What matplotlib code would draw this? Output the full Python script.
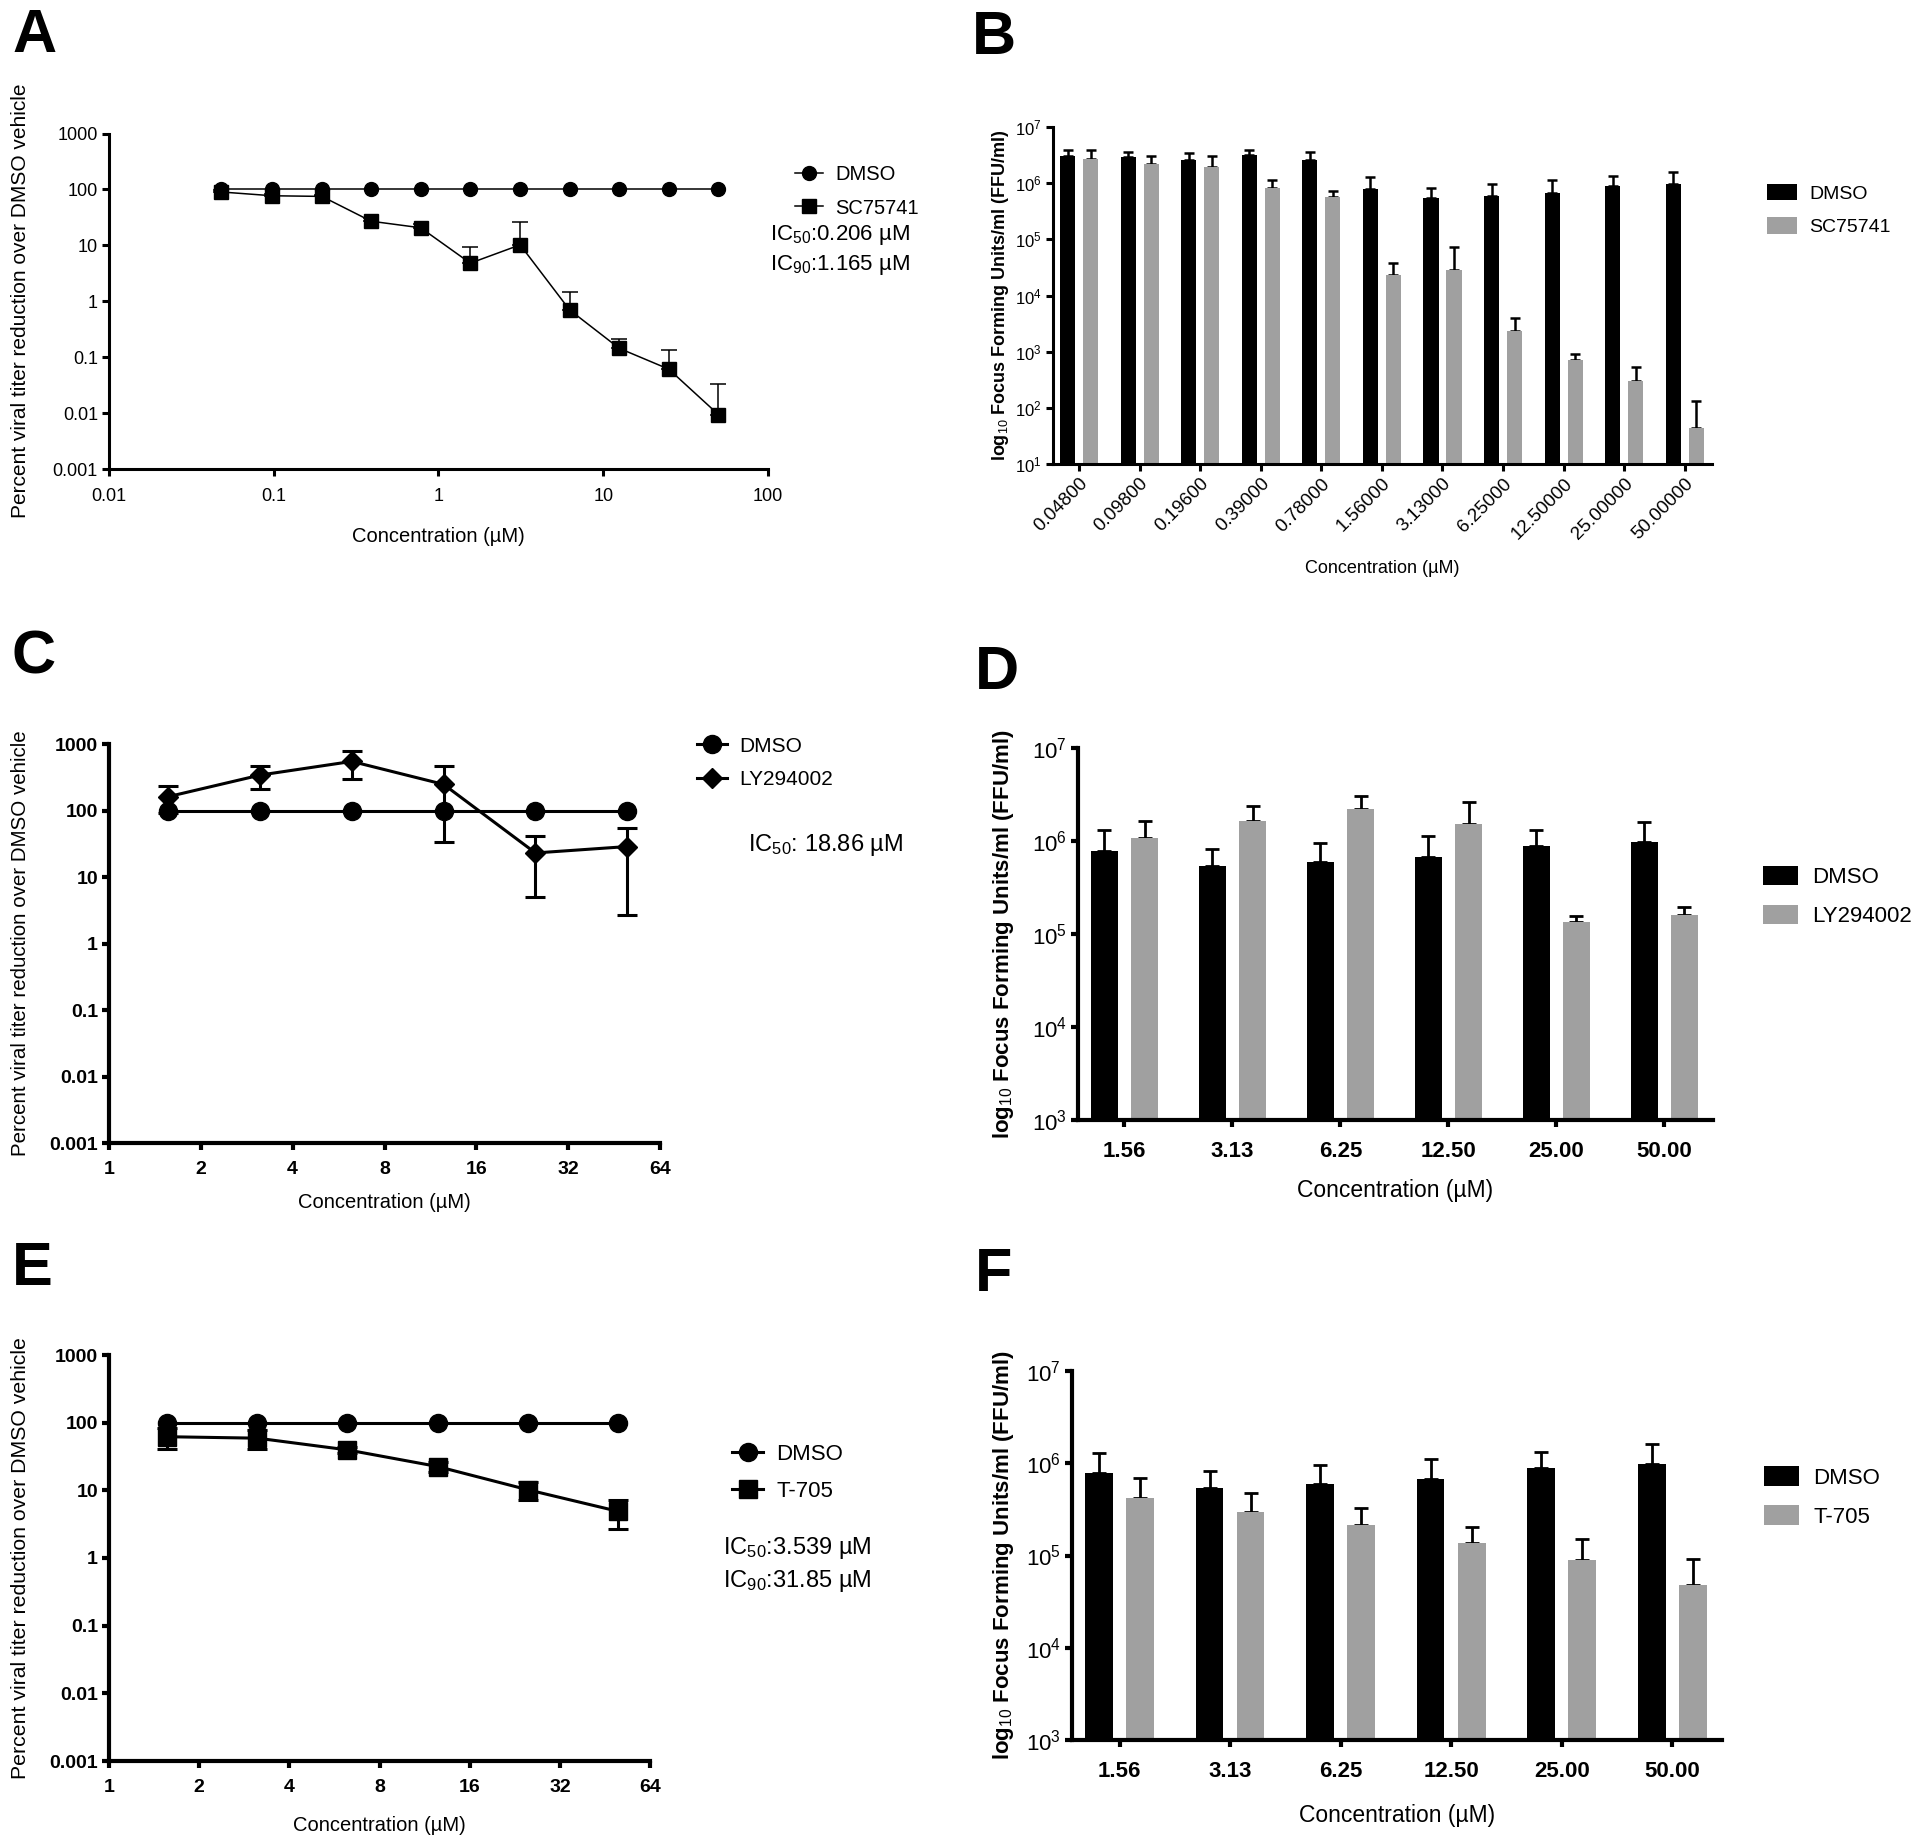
import matplotlib
matplotlib.use('Agg')
import matplotlib.pyplot as plt
from matplotlib.ticker import FixedLocator, FixedFormatter, NullLocator
import numpy as np

plt.rcParams['font.family'] = ['Liberation Sans', 'DejaVu Sans']
plt.rcParams['mathtext.fontset'] = 'custom'
plt.rcParams['mathtext.rm'] = 'Liberation Sans'
plt.rcParams['mathtext.it'] = 'Liberation Sans:italic'
plt.rcParams['mathtext.bf'] = 'Liberation Sans:bold'

# ---- data ----
conc_full = [0.048, 0.098, 0.196, 0.39, 0.78, 1.56, 3.13, 6.25, 12.5, 25.0, 50.0]
conc_short = [1.56, 3.13, 6.25, 12.5, 25.0, 50.0]

# A: SC75741 dose response (% of DMSO)
a_dmso = [100, 100, 100, 100, 100, 100, 100, 100, 100, 100, 100]
a_sc = [90, 77, 75, 27, 20.6, 4.8, 10.2, 0.70, 0.144, 0.061, 0.0094]
a_sc_err = [8, 5, 5, 4, 3, 4.4, 16.3, 0.76, 0.071, 0.072, 0.024]
a_ic = [r'IC$_{50}$:0.206 µM', r'IC$_{90}$:1.165 µM']

# B: SC75741 titers (FFU/ml)
b_dmso = [3.0e6, 2.9e6, 2.6e6, 3.15e6, 2.6e6, 7.8e5, 5.4e5, 5.9e5, 6.8e5, 8.8e5, 9.8e5]
b_dmso_err = [8.5e5, 7.0e5, 8.0e5, 8.0e5, 1.0e6, 5.2e5, 2.9e5, 3.6e5, 4.4e5, 4.4e5, 6.2e5]
b_sc = [2.7e6, 2.2e6, 1.95e6, 8.3e5, 5.6e5, 2.3e4, 2.9e4, 2.3e3, 700, 305, 43]
b_sc_err = [1.25e6, 8.0e5, 1.05e6, 3.2e5, 1.6e5, 1.5e4, 4.4e4, 1.6e3, 220, 225, 87]
b_ticklabels = ['0.04800', '0.09800', '0.19600', '0.39000', '0.78000', '1.56000',
                '3.13000', '6.25000', '12.50000', '25.00000', '50.00000']

# C: LY294002 dose response
c_dmso = [100, 100, 100, 100, 100, 100]
c_ly = [161, 341, 547, 247, 23, 28.7]
c_ly_err = [70, 130, 250, 213, 18, 26]

# D: LY294002 titers
dmso_short = [7.8e5, 5.4e5, 5.9e5, 6.8e5, 8.8e5, 9.8e5]
dmso_short_err = [5.2e5, 2.9e5, 3.6e5, 4.4e5, 4.4e5, 6.2e5]
d_ly = [1.08e6, 1.63e6, 2.19e6, 1.51e6, 1.35e5, 1.6e5]
d_ly_err = [5.5e5, 7.2e5, 8.8e5, 1.1e6, 2.0e4, 3.5e4]
short_ticklabels = ['1.56', '3.13', '6.25', '12.50', '25.00', '50.00']

# E: T-705 dose response
e_dmso = [100, 100, 100, 100, 100, 100]
e_t705 = [62, 59, 39.6, 22.5, 10.2, 4.9]
e_t705_err = [21, 18, 4, 4, 3, 2.2]
e_ic = [r'IC$_{50}$:3.539 µM', r'IC$_{90}$:31.85 µM']

# F: T-705 titers
f_t705 = [4.24e5, 2.98e5, 2.13e5, 1.35e5, 8.9e4, 4.8e4]
f_t705_err = [2.66e5, 1.72e5, 1.17e5, 6.8e4, 6.1e4, 4.3e4]

pct_ticks = [0.001, 0.01, 0.1, 1, 10, 100, 1000]
pct_labels = ['0.001', '0.01', '0.1', '1', '10', '100', '1000']
GRAY = '#a0a0a0'
YLAB_PCT = 'Percent viral titer reduction over DMSO vehicle'
YLAB_FFU = r'log$_{10}$ Focus Forming Units/ml (FFU/ml)'
XLAB = 'Concentration (µM)'

W, H = 1920, 1847
fig = plt.figure(figsize=(W / 100, H / 100), dpi=100)
fig.patch.set_facecolor('white')


def rect(x0, x1, ytop, ybot):
    return [x0 / W, 1 - ybot / H, (x1 - x0) / W, (ybot - ytop) / H]


def style_axes(ax, lw, tick_fs, weight, xpad=3):
    for s in ['top', 'right']:
        ax.spines[s].set_visible(False)
    for s in ['left', 'bottom']:
        ax.spines[s].set_linewidth(lw)
    ax.tick_params(direction='out', length=5, width=lw, labelsize=tick_fs, pad=3)
    ax.tick_params(axis='x', pad=xpad)
    for lab in ax.get_xticklabels() + ax.get_yticklabels():
        lab.set_fontweight(weight)


def place_labels(ax, xlab_y, ylab_x, fs_x, fs_y, wy='normal'):
    ax.set_xlabel(XLAB, fontsize=fs_x)
    ax.xaxis.label.set_va('center')
    ax.xaxis.set_label_coords(0.5, xlab_y)
    ax.yaxis.label.set_fontsize(fs_y)
    ax.yaxis.label.set_fontweight(wy)
    ax.yaxis.label.set_va('center')
    ax.yaxis.set_label_coords(ylab_x, 0.5)


def dose_panel(ax, conc, dmso, drug, drug_err, drug_name, drug_marker, base,
               xticks, xlabels, xlim, lw, ms, both_err):
    h1, = ax.plot(conc, dmso, color='black', marker='o', ms=ms, lw=lw, label='DMSO',
                  zorder=3)
    lower = drug_err if both_err else [0] * len(drug_err)
    ax.errorbar(conc, drug, yerr=[lower, drug_err], fmt='none', ecolor='black',
                elinewidth=lw, capsize=ms * 0.55, capthick=lw, zorder=2)
    h2, = ax.plot(conc, drug, color='black', marker=drug_marker, ms=ms, lw=lw,
                  label=drug_name, zorder=4)
    if base == 2:
        ax.set_xscale('log', base=2)
    else:
        ax.set_xscale('log')
    ax.set_yscale('log')
    ax.set_xlim(*xlim)
    ax.set_ylim(0.001, 1000)
    ax.xaxis.set_major_locator(FixedLocator(xticks))
    ax.xaxis.set_major_formatter(FixedFormatter(xlabels))
    ax.xaxis.set_minor_locator(NullLocator())
    ax.yaxis.set_major_locator(FixedLocator(pct_ticks))
    ax.yaxis.set_major_formatter(FixedFormatter(pct_labels))
    ax.yaxis.set_minor_locator(NullLocator())
    ax.set_ylabel(YLAB_PCT)
    return [h1, h2]


def bar_panel(ax, dmso, dmso_err, drug, drug_err, labels, ylim, yticks, width, off,
              err_lw, cap):
    x = np.arange(len(dmso))
    b1 = ax.bar(x - off, dmso, width, color='black', label='DMSO', zorder=2)
    b2 = ax.bar(x + off, drug, width, color=GRAY, zorder=2)
    ax.errorbar(x - off, dmso, yerr=[[0] * len(dmso), dmso_err], fmt='none',
                ecolor='black', elinewidth=err_lw, capsize=cap, capthick=err_lw, zorder=1)
    ax.errorbar(x + off, drug, yerr=[[0] * len(drug), drug_err], fmt='none',
                ecolor='black', elinewidth=err_lw, capsize=cap, capthick=err_lw, zorder=1)
    ax.set_yscale('log')
    ax.set_ylim(*ylim)
    ax.set_xlim(-0.43, len(dmso) - 1 + 0.45)
    ax.set_xticks(x)
    ax.set_xticklabels(labels)
    ax.yaxis.set_major_locator(FixedLocator(yticks))
    ax.yaxis.set_major_formatter(FixedFormatter([r'$10^{%d}$' % int(np.log10(t)) for t in yticks]))
    ax.yaxis.set_minor_locator(NullLocator())
    ax.set_ylabel(YLAB_FFU)
    return [b1, b2]


def line_legend(handles, x, y, fs):
    fig.legend(handles=handles, loc='center left', bbox_to_anchor=(x / W, 1 - y / H),
               frameon=False, fontsize=fs, handlelength=1.4, handletextpad=0.6,
               labelspacing=0.7, borderpad=0, numpoints=1)


def bar_legend(handles, x, y, fs):
    fig.legend(handles=handles, loc='center left', bbox_to_anchor=(x / W, 1 - y / H),
               frameon=False, fontsize=fs, handlelength=1.55, handleheight=0.95,
               handletextpad=0.65, labelspacing=0.75, borderpad=0)


# ---- Panel A ----
axA = fig.add_axes(rect(109, 768, 133.5, 469))
hA = dose_panel(axA, conc_full, a_dmso, a_sc, a_sc_err, 'SC75741', 's', 10,
                [0.01, 0.1, 1, 10, 100], ['0.01', '0.1', '1', '10', '100'], (0.01, 100),
                1.1, 10, False)
style_axes(axA, 2.2, 13, 'normal', xpad=9)
place_labels(axA, -0.2, -0.134, 14.5, 15)
line_legend(hA, 785, 191.5, 14.5)
for i, t in enumerate(a_ic):
    fig.text(770 / W, 1 - (235 + 30 * i) / H, t, fontsize=16, va='center')

# ---- Panel B ----
axB = fig.add_axes(rect(1053, 1712, 127, 464))
hB = bar_panel(axB, b_dmso, b_dmso_err, b_sc, b_sc_err, b_ticklabels, (10, 1e7),
               [1e1, 1e2, 1e3, 1e4, 1e5, 1e6, 1e7], 0.25, 0.19, 1.8, 3.5)
hB[1].set_label('SC75741')
style_axes(axB, 2.2, 12, 'normal')
axB.tick_params(axis='x', labelsize=13.5)
for lab in axB.get_xticklabels():
    lab.set_rotation(45)
    lab.set_ha('right')
    lab.set_rotation_mode('anchor')
place_labels(axB, -0.31, -0.08, 13, 13, 'bold')
bar_legend(hB, 1757, 210, 14)

# ---- Panel C ----
axC = fig.add_axes(rect(109, 660, 744, 1143))
hC = dose_panel(axC, conc_short, c_dmso, c_ly, c_ly_err, 'LY294002', 'D', 2,
                [1, 2, 4, 8, 16, 32, 64], ['1', '2', '4', '8', '16', '32', '64'], (1, 64),
                2.2, 13, True)
hC[1].set_markersize(10)
style_axes(axC, 3, 14, 'bold', xpad=8)
place_labels(axC, -0.148, -0.16, 14.5, 14.8)
line_legend(hC, 687, 763, 15)
fig.text(748 / W, 1 - 845 / H, r'IC$_{50}$: 18.86 µM', fontsize=17, va='center')

# ---- Panel D ----
axD = fig.add_axes(rect(1078, 1713, 748, 1120))
hD = bar_panel(axD, dmso_short, dmso_short_err, d_ly, d_ly_err, short_ticklabels,
               (1e3, 1e7), [1e3, 1e4, 1e5, 1e6, 1e7], 0.25, 0.186, 2, 5)
hD[1].set_label('LY294002')
style_axes(axD, 3, 16, 'bold', xpad=10)
place_labels(axD, -0.19, -0.118, 16.5, 16, 'bold')
bar_legend(hD, 1752, 896.5, 16)

# ---- Panel E ----
axE = fig.add_axes(rect(109, 650, 1355, 1761))
hE = dose_panel(axE, conc_short, e_dmso, e_t705, e_t705_err, 'T-705', 's', 2,
                [1, 2, 4, 8, 16, 32, 64], ['1', '2', '4', '8', '16', '32', '64'], (1, 64),
                2.2, 13, True)
style_axes(axE, 3, 14, 'bold', xpad=8)
place_labels(axE, -0.16, -0.163, 14.5, 15.3)
line_legend(hE, 721, 1473, 16)
for i, t in enumerate(e_ic):
    fig.text(723 / W, 1 - (1548 + 33 * i) / H, t, fontsize=17, va='center')

# ---- Panel F ----
axF = fig.add_axes(rect(1072, 1722, 1371, 1740))
hF = bar_panel(axF, dmso_short, dmso_short_err, f_t705, f_t705_err, short_ticklabels,
               (1e3, 1e7), [1e3, 1e4, 1e5, 1e6, 1e7], 0.25, 0.186, 2, 5)
hF[1].set_label('T-705')
style_axes(axF, 3, 16, 'bold', xpad=10)
place_labels(axF, -0.205, -0.106, 16.5, 16, 'bold')
bar_legend(hF, 1753, 1497, 16)

# ---- panel letters ----
for letter, x, y in [('A', 12, 8), ('B', 972, 10), ('C', 12, 630), ('D', 975, 645),
                     ('E', 12, 1241), ('F', 975, 1247)]:
    fig.text(x / W, 1 - y / H, letter, fontsize=44, fontweight='bold', va='top')

fig.savefig('out.png', dpi=100, facecolor='white')
